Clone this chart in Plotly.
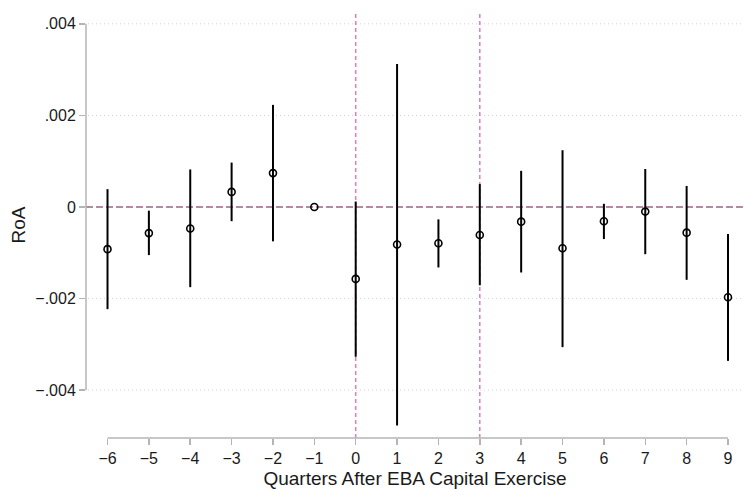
import plotly.graph_objects as go

quarters = [-6, -5, -4, -3, -2, -1, 0, 1, 2, 3, 4, 5, 6, 7, 8, 9]
coef = [-0.00092, -0.00057, -0.00047, 0.00033, 0.00074, 0.0, -0.00157, -0.00082,
        -0.00079, -0.00061, -0.00032, -0.0009, -0.00031, -0.0001, -0.00056, -0.00197]
ci_hi = [0.00039, -0.00008, 0.00082, 0.00097, 0.00223, 0.0, 0.00012, 0.00312,
         -0.00027, 0.0005, 0.00079, 0.00124, 0.00007, 0.00083, 0.00046, -0.00059]
ci_lo = [-0.00223, -0.00105, -0.00175, -0.00031, -0.00075, 0.0, -0.00327, -0.00477,
         -0.00132, -0.00171, -0.00143, -0.00306, -0.0007, -0.00103, -0.00159, -0.00336]

y_ticks = [-0.004, -0.002, 0, 0.002, 0.004]
y_ticklabels = ["\u2212.004", "\u2212.002", "0", ".002", ".004"]
x_ticklabels = [("\u2212" + str(-q)) if q < 0 else str(q) for q in quarters]
event_lines = [0, 3]

FONT = "Liberation Sans, Arial, Helvetica, sans-serif"
AXIS_GRAY = "#b4b4b4"

fig = go.Figure()

fig.add_trace(go.Scatter(
    x=quarters, y=coef, mode="markers",
    marker=dict(symbol="circle-open", size=7, color="black", line=dict(width=1.6)),
    error_y=dict(type="data", symmetric=False,
                 array=[h - c for h, c in zip(ci_hi, coef)],
                 arrayminus=[c - l for c, l in zip(coef, ci_lo)],
                 color="black", thickness=2, width=0),
    showlegend=False,
    hoverinfo="skip",
))

shapes = []
# dotted gridlines
for v in y_ticks:
    if v != 0:
        shapes.append(dict(type="line", xref="paper", x0=0.003, x1=1, yref="y", y0=v, y1=v,
                           line=dict(color="#d2d2d2", width=1, dash="1px,3px"), layer="below"))
# zero line
shapes.append(dict(type="line", xref="paper", x0=0, x1=1, yref="y", y0=0, y1=0,
                   line=dict(color="#9c6384", width=1.5, dash="7px,3px"), layer="below"))
# event vertical lines
for e in event_lines:
    shapes.append(dict(type="line", xref="x", x0=e, x1=e, yref="paper", y0=0, y1=1,
                       line=dict(color="#e27cba", width=1.5, dash="4px,3px"), layer="below"))
# axis lines spanning tick range
shapes.append(dict(type="line", xref="paper", x0=0, x1=0, yref="y", y0=min(y_ticks), y1=max(y_ticks),
                   line=dict(color=AXIS_GRAY, width=1.5)))
shapes.append(dict(type="line", xref="x", x0=min(quarters), x1=max(quarters), yref="paper", y0=0, y1=0,
                   line=dict(color=AXIS_GRAY, width=1.5)))

fig.update_layout(
    width=744, height=490,
    margin=dict(l=86, r=0, t=12, b=52, autoexpand=False),
    plot_bgcolor="white", paper_bgcolor="white",
    font=dict(family=FONT, size=16, color="#1a1a1a"),
    shapes=shapes,
    xaxis=dict(range=[-6.52, 9.387], tickvals=quarters, ticktext=x_ticklabels,
               showgrid=False, zeroline=False, showline=False,
               ticks="outside", ticklen=6, tickwidth=1.5, tickcolor=AXIS_GRAY,
               tickfont=dict(size=16),
               title=dict(text="Quarters After EBA Capital Exercise", font=dict(size=19), standoff=5)),
    yaxis=dict(range=[-0.005044, 0.004258], tickvals=y_ticks, ticktext=y_ticklabels,
               showgrid=False, zeroline=False, showline=False,
               ticks="outside", ticklen=6, tickwidth=1.5, tickcolor=AXIS_GRAY,
               tickfont=dict(size=16),
               title=dict(text="RoA", font=dict(size=19), standoff=4)),
)

fig.write_html("out.html",
               config={"displayModeBar": False, "staticPlot": True},
               post_script="document.body.style.margin='0';document.body.style.overflow='hidden';")
